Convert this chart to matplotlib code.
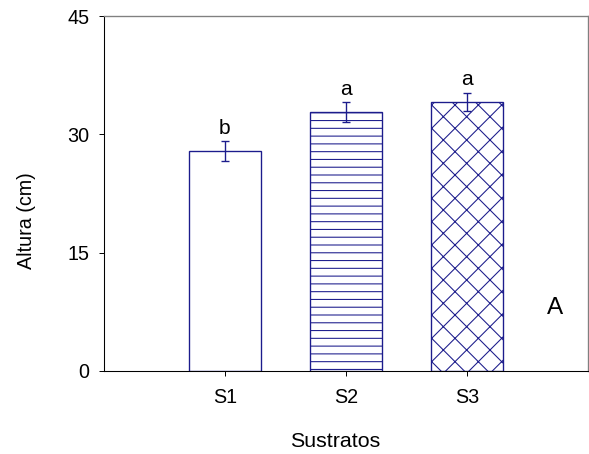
import numpy as np
import matplotlib
matplotlib.use('Agg')
import matplotlib.pyplot as plt

# data
sustratos = ['S1', 'S2', 'S3']
altura = [27.9, 32.8, 34.1]
error = [1.25, 1.25, 1.2]
letras = ['b', 'a', 'a']
hatches = ['', '---', 'xx']

navy = '#1c1c8c'
dpi = 140

plt.rcParams['font.family'] = ['Liberation Sans', 'DejaVu Sans']
plt.rcParams['hatch.linewidth'] = 0.55
plt.rcParams['hatch.color'] = navy

fig = plt.figure(figsize=(589 / dpi, 454 / dpi), dpi=dpi, facecolor='w')
ax = fig.add_axes([104 / 589, 83 / 454, 484 / 589, 355 / 454])

x = np.arange(1, len(sustratos) + 1)
for xi, h, e, ht, let in zip(x, altura, error, hatches, letras):
    ax.bar(xi, h, width=0.6, color='white', edgecolor=navy,
           linewidth=0.7, hatch=ht, zorder=2)
    ax.errorbar(xi, h, yerr=e, fmt='none', ecolor=navy,
                elinewidth=0.7, capsize=2.3, capthick=0.7, zorder=3)
    ax.text(xi, h + e + 0.95, let, ha='center', va='baseline', fontsize=10.8)

ax.text(3.73, 8.0, 'A', ha='center', va='center', fontsize=12.5)

ax.set_xlim(0, 4)
ax.set_ylim(0, 45)
ax.set_xticks(x)
ax.set_xticklabels(sustratos)
ax.set_yticks([0, 15, 30, 45])

ax.tick_params(axis='x', direction='out', length=2.6, width=0.5,
               pad=6, labelsize=10.2)
ax.tick_params(axis='y', direction='out', length=2.6, width=0.5,
               pad=5, labelsize=10.2)
for s in ['left', 'bottom']:
    ax.spines[s].set_linewidth(0.55)
for s in ['top', 'right']:
    ax.spines[s].set_linewidth(0.7)
    ax.spines[s].set_color('#808080')

ax.set_ylabel('Altura (cm)', fontsize=10.2, labelpad=16, y=0.4225)
ax.set_xlabel('Sustratos', fontsize=11, labelpad=13, x=0.477)

fig.savefig('out.png', dpi=dpi)
